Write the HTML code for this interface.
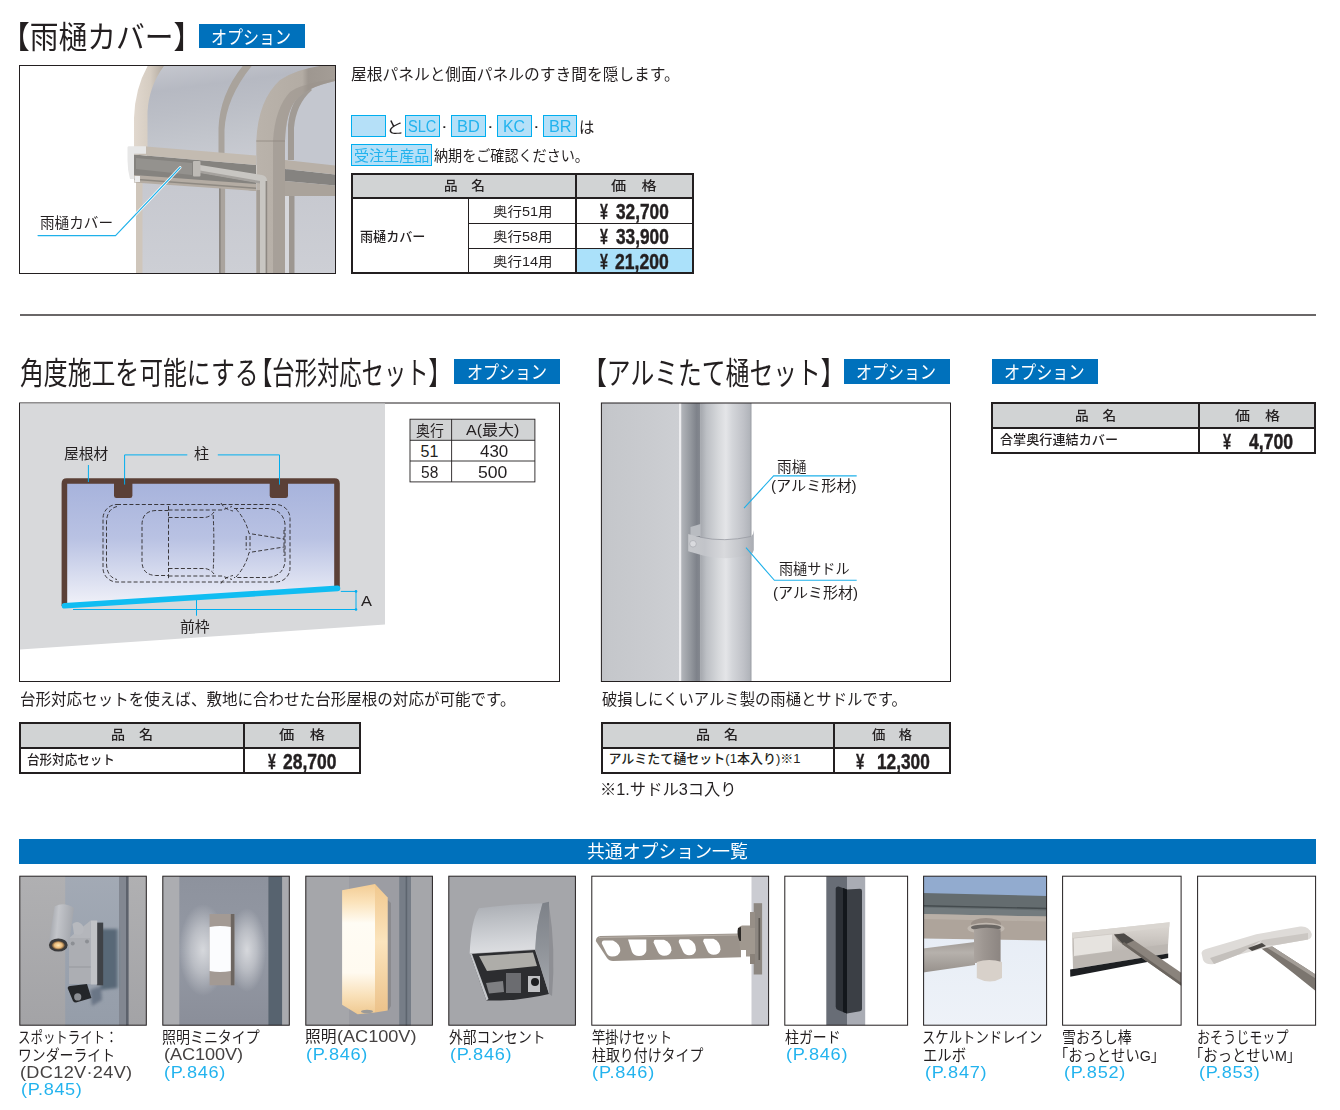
<!DOCTYPE html>
<html lang="ja"><head><meta charset="utf-8"><title>オプション</title>
<style>
html,body{margin:0;padding:0;background:#fff}
body{width:1340px;height:1110px;position:relative;overflow:hidden;font-family:"Liberation Sans", "Noto Sans CJK JP", sans-serif;color:#231f20;font-weight:400}
.t{position:absolute;white-space:pre;line-height:1;transform-origin:0 0}
.b{position:absolute;box-sizing:border-box}
svg{position:absolute;display:block;overflow:hidden}
svg text{font-family:"Liberation Sans", "Noto Sans CJK JP", sans-serif}
</style></head>
<body>
<div class="b" style="left:199px;top:24px;width:106px;height:24px;background:#0071bc"></div>
<div class="b" style="left:454.2px;top:359px;width:105.6px;height:25px;background:#0071bc"></div>
<div class="b" style="left:843.9px;top:359px;width:106.1px;height:25px;background:#0071bc"></div>
<div class="b" style="left:992px;top:359px;width:106px;height:25px;background:#0071bc"></div>
<div class="b" style="left:19.5px;top:314px;width:1296.3px;height:2px;background:#6a6768"></div>
<div class="b" style="left:351px;top:114.8px;width:35px;height:22.0px;background:#b5e0f8;border:1.5px solid #00aeef"></div>
<div class="b" style="left:405.3px;top:114.8px;width:34.8px;height:22.0px;background:#b5e0f8;border:1.5px solid #00aeef"></div>
<div class="b" style="left:451px;top:114.8px;width:35px;height:22.0px;background:#b5e0f8;border:1.5px solid #00aeef"></div>
<div class="b" style="left:497px;top:114.8px;width:34.8px;height:22.0px;background:#b5e0f8;border:1.5px solid #00aeef"></div>
<div class="b" style="left:542.7px;top:114.8px;width:34.5px;height:22.0px;background:#b5e0f8;border:1.5px solid #00aeef"></div>
<div class="b" style="left:351px;top:144px;width:81px;height:21.8px;background:#b5e0f8;border:1.5px solid #00aeef"></div>
<div class="b" style="left:351px;top:173px;width:342.6px;height:25.4px;background:#d1d3d4"></div>
<div class="b" style="left:576.2px;top:248.8px;width:117.1px;height:25.2px;background:#abe1fa"></div>
<div class="b" style="left:351px;top:173px;width:342.6px;height:101px;border:2px solid #231f20"></div>
<div class="b" style="left:351px;top:197.4px;width:342.6px;height:2.0px;background:#231f20"></div>
<div class="b" style="left:575.1px;top:173px;width:2.0px;height:101px;background:#231f20"></div>
<div class="b" style="left:467.8px;top:198.4px;width:1.0px;height:75.6px;background:#231f20"></div>
<div class="b" style="left:468.3px;top:222.9px;width:225.3px;height:1.0px;background:#231f20"></div>
<div class="b" style="left:468.3px;top:248.3px;width:225.3px;height:1.0px;background:#231f20"></div>
<div class="b" style="left:19.2px;top:722px;width:342.0px;height:25.7px;background:#d1d3d4"></div>
<div class="b" style="left:19.2px;top:722px;width:342.0px;height:51.5px;border:2px solid #231f20"></div>
<div class="b" style="left:19.2px;top:746.7px;width:342.0px;height:2.0px;background:#231f20"></div>
<div class="b" style="left:242.8px;top:722px;width:2.0px;height:51.5px;background:#231f20"></div>
<div class="b" style="left:600.7px;top:722px;width:350.5px;height:25.7px;background:#d1d3d4"></div>
<div class="b" style="left:600.7px;top:722px;width:350.5px;height:51.5px;border:2px solid #231f20"></div>
<div class="b" style="left:600.7px;top:746.7px;width:350.5px;height:2.0px;background:#231f20"></div>
<div class="b" style="left:832.9px;top:722px;width:2.0px;height:51.5px;background:#231f20"></div>
<div class="b" style="left:991px;top:402.3px;width:325.4px;height:25.4px;background:#d1d3d4"></div>
<div class="b" style="left:991px;top:402.3px;width:325.4px;height:51.5px;border:2px solid #231f20"></div>
<div class="b" style="left:991px;top:426.7px;width:325.4px;height:2.0px;background:#231f20"></div>
<div class="b" style="left:1198px;top:402.3px;width:2px;height:51.5px;background:#231f20"></div>
<div class="b" style="left:19px;top:839px;width:1297.2px;height:25px;background:#0071bc"></div>
<svg style="left:0;top:60px" width="345" height="220" viewBox="0 60 345 220">
<defs>
<clipPath id="c1"><rect x="20" y="66" width="315" height="207.5"/></clipPath>
<linearGradient id="g1a" x1="0" y1="0" x2="0.25" y2="1"><stop offset="0" stop-color="#c8cad1"/><stop offset="0.28" stop-color="#b6b9c2"/><stop offset="0.5" stop-color="#bbbec6"/><stop offset="0.75" stop-color="#c2c5cc"/><stop offset="1" stop-color="#c9cbd2"/></linearGradient>
<linearGradient id="g1b" x1="0" y1="0" x2="0" y2="1"><stop offset="0" stop-color="#c6c8cf"/><stop offset="1" stop-color="#cdcfd5"/></linearGradient>
<linearGradient id="g1p" x1="0" y1="0" x2="1" y2="0"><stop offset="0" stop-color="#bab3ab"/><stop offset="0.55" stop-color="#b3aca4"/><stop offset="0.62" stop-color="#9e9790"/><stop offset="1" stop-color="#a59e97"/></linearGradient>
<linearGradient id="g1f" x1="0" y1="0" x2="1" y2="0"><stop offset="0" stop-color="#e1d8ce"/><stop offset="0.5" stop-color="#d5ccc1"/><stop offset="1" stop-color="#a9a198"/></linearGradient>
</defs>
<rect x="19.5" y="65.5" width="316" height="208" fill="#fff"/>
<g clip-path="url(#c1)">
<!-- upper glass -->
<path d="M147,150 V110 Q148,82 166,62 H340 V165 H147 Z" fill="url(#g1a)"/>
<path d="M287,160 V110 Q290,90 306,78 L340,70 V170 H287 Z" fill="#c4c7cf"/>
<!-- lower glass -->
<rect x="140" y="178" width="200" height="96" fill="url(#g1b)"/>
<!-- left arch frame -->
<path d="M134,150 V118 Q135,86 150,62 H167 Q149,84 147.5,112 V150 Z" fill="url(#g1f)"/>
<!-- second thin arch -->
<path d="M218.5,153 V128 Q220,92 246,62 H255 Q226,96 224.5,130 V154 Z" fill="#a9a39c"/>
<!-- thin arch behind elbow -->
<path d="M288,160 V125 Q290,100 308,86 L312,90 Q296,104 294,128 V160 Z" fill="#a19b95"/>
<!-- right beam -->
<path d="M285,160 L340,166 V175 L285,169 Z" fill="#b8b0a7"/>
<path d="M285,169 L340,175 V186 L285,181 Z" fill="#858380"/>
<path d="M285,181 L340,186 V196 L285,196 Z" fill="#aaa39b"/>
<rect x="289" y="196" width="5.5" height="80" fill="#9d9791"/>
<rect x="285" y="196" width="4" height="80" fill="#d6d7db"/>
<!-- left lower column -->
<rect x="136" y="180" width="6.5" height="95" fill="#cfc6bb"/>
<!-- mullion -->
<rect x="219.3" y="186" width="5.8" height="90" fill="#aaa49e"/>
<rect x="219.3" y="186" width="1.2" height="90" fill="#7c7873"/>
<!-- beam -->
<path d="M134,154.5 L256,165 V191 L134,176 Z" fill="#85837f"/>
<path d="M136,158 L192,163 V175 L136,169 Z" fill="#94928e"/>
<path d="M146,146.5 L256,155.5 V165 L134,154.6 V150 Z" fill="#c3bbb1"/>
<path d="M134,175 L256,184 V191 L134,182.5 Z" fill="#b4aca3"/>
<path d="M134,178.5 L256,187.5 V189 L134,180 Z" fill="#8e8982"/>
<!-- main post + elbow -->
<path d="M256.3,275 V141 Q258,100 280,80 Q300,66 340,64 V80 Q308,86 296,100 Q286,112 285,141 V275 Z" fill="url(#g1p)"/>
<path d="M273,275 V141 Q275,108 290,92 Q300,84 340,78 V80 Q308,86 296,100 Q286,112 285,141 V275 Z" fill="#9a938c" opacity="0.55"/>
<path d="M256.3,141 H285" stroke="#8f8982" stroke-width="0.8"/>
<!-- small pipe -->
<path d="M200,165 L262,175 Q267,176 267,181 V275 H260 V183 L200,172.5 Z" fill="#c8c6c2"/>
<path d="M200,170.5 L260,181 V183.5 L200,173 Z" fill="#a5a29e"/>
<rect x="265.6" y="181" width="1.6" height="95" fill="#8d8882"/>
<rect x="193" y="161" width="7.5" height="15.5" rx="1" fill="#bdbab5"/>
<rect x="256.5" y="190" width="3.5" height="85" fill="#a39d96"/>
<!-- end cap -->
<path d="M127.5,147.5 Q127.5,146.3 129,146.3 H146 V153.8 H134 V179 H130 Q127.5,170 127.5,160 Z" fill="#e7e7e7"/>
<rect x="134.5" y="176" width="5.5" height="6" fill="#ececec"/>
</g>
<path d="M38,235.6 H115.5 L180.2,167.5" fill="none" stroke="#fff" stroke-width="2.6" stroke-linecap="round"/>
<path d="M38,235.6 H115.5 L180.2,167.5" fill="none" stroke="#1fb1ea" stroke-width="1.1" stroke-linecap="round"/>
<rect x="19.5" y="65.5" width="316" height="208" fill="none" stroke="#231f20" stroke-width="1"/>
</svg>
<svg style="left:0;top:390px" width="580" height="300" viewBox="0 390 580 300">
<defs>
<linearGradient id="gRoof" x1="0" y1="0" x2="0" y2="1"><stop offset="0" stop-color="#a7b3dc"/><stop offset="0.45" stop-color="#b9c2e3"/><stop offset="1" stop-color="#f1f2f9"/></linearGradient>
</defs>
<rect x="19.5" y="403" width="540" height="278.5" fill="#fff" stroke="#231f20" stroke-width="1"/>
<polygon points="20,403.5 385,403.5 385,624.6 20,649.5" fill="#d8d9db"/>
<polygon points="66,483 335,483 335,588.5 66,606" fill="url(#gRoof)"/>
<path d="M64.4,606 V483.4 Q64.4,481 66.8,481 H334.6 Q337,481 337,483.4 V589" fill="none" stroke="#5b4037" stroke-width="5.6"/>
<path d="M114,482 H132.4 V495.5 Q132.4,498 130,498 H116.4 Q114,498 114,495.5 Z" fill="#5b4037"/>
<path d="M269.7,482 H288 V495.5 Q288,498 285.6,498 H272.1 Q269.7,498 269.7,495.5 Z" fill="#5b4037"/>
<g fill="none" stroke="#2b2829" stroke-width="0.9" stroke-dasharray="4 2.2">
<rect x="103" y="504.5" width="187" height="77.5" rx="14" ry="14"/>
<path d="M117,506.5 Q107,509 106.5,522 V564 Q107,577 117,579.5"/>
<path d="M168.5,510.5 H156 Q142,511 142,525 V561 Q142,575 156,575.5 H168.5"/>
<path d="M168.5,506 V580"/>
<path d="M168.5,517.5 H205 Q211,516.5 214,512 M168.5,568.5 H205 Q211,569.5 214,574 M213.2,515 Q214.5,543 213.2,571"/>
<path d="M168.5,510 H222 L232,506.5 M168.5,576 H222 L232,579.5"/>
<path d="M234,508.5 H268 Q283,510 285,524 V562 Q283,576 268,577.5 H234"/>
<path d="M236,509 Q246,520 249,533.5 L284,539 M236,577 Q246,566 249,552.5 L284,547"/>
<path d="M246.2,536 V550 M250,536 V550 M284,530 V556"/>
<path d="M221,503 Q224,509 233,511 M221,583.5 Q224,577.5 233,575.5"/>
</g>
<g fill="none" stroke="#00aeef" stroke-width="1">
<path d="M88.4,465 V482"/>
<path d="M187.3,454.9 H124.6 V484.6"/>
<path d="M217.8,454.9 H279.5 V484.6"/>
<path d="M196.5,597 V615.7"/>
<path d="M73,609.5 H356 M340.8,591.4 H356 M356,591.4 V609.5"/>
</g>
<circle cx="356" cy="591.4" r="1.3" fill="#00aeef"/><circle cx="356" cy="609.5" r="1.3" fill="#00aeef"/>
<path d="M64.5,605.8 L337.5,588.4" stroke="#10bdf2" stroke-width="5.6" stroke-linecap="round" fill="none"/>
<rect x="410" y="419.2" width="124.9" height="21.1" fill="#d1d3d4"/>
<g fill="none" stroke="#231f20" stroke-width="0.9">
<rect x="410" y="419.2" width="124.9" height="62.7"/>
<path d="M410,440.3 H534.9 M410,461 H534.9 M451.6,419.2 V481.9"/>
</g>
</svg>
<svg style="left:590px;top:395px" width="370" height="295" viewBox="590 395 370 295">
<defs>
<clipPath id="c3"><rect x="601.4" y="403" width="349.1" height="278.5"/></clipPath>
<linearGradient id="g3w" x1="0" y1="0" x2="1" y2="0"><stop offset="0" stop-color="#c0c2c6"/><stop offset="0.12" stop-color="#c5c7cb"/><stop offset="0.6" stop-color="#c9cbcf"/><stop offset="1" stop-color="#cdcfd3"/></linearGradient>
<linearGradient id="g3s" x1="0" y1="0" x2="1" y2="0"><stop offset="0" stop-color="#b3b6bb"/><stop offset="0.45" stop-color="#969aa0"/><stop offset="0.8" stop-color="#7e828a"/><stop offset="1" stop-color="#858990"/></linearGradient>
<linearGradient id="g3p" x1="0" y1="0" x2="1" y2="0"><stop offset="0" stop-color="#a4a7ad"/><stop offset="0.12" stop-color="#bcbfc4"/><stop offset="0.35" stop-color="#d6d8db"/><stop offset="0.5" stop-color="#e4e5e8"/><stop offset="0.62" stop-color="#d4d6da"/><stop offset="0.85" stop-color="#bfc1c7"/><stop offset="0.96" stop-color="#b2b5bb"/><stop offset="1" stop-color="#9a9da4"/></linearGradient>
<linearGradient id="g3b" x1="0" y1="0" x2="1" y2="0"><stop offset="0" stop-color="#c6c8cc"/><stop offset="0.25" stop-color="#c2c4c9"/><stop offset="0.55" stop-color="#d9dadd"/><stop offset="0.8" stop-color="#c3c5ca"/><stop offset="1" stop-color="#a9acb3"/></linearGradient>
</defs>
<rect x="601.4" y="403" width="349.1" height="278.5" fill="#fff"/>
<g clip-path="url(#c3)">
<rect x="600" y="402" width="80" height="280" fill="url(#g3w)"/>
<rect x="679" y="402" width="2.4" height="280" fill="#eeeef0"/>
<rect x="681.2" y="402" width="19.4" height="280" fill="url(#g3s)"/>
<rect x="700.3" y="402" width="51.2" height="280" fill="url(#g3p)"/>
<path d="M690.5,527 L700.5,524 V536 H690.5 Z" fill="#b9bcc1"/>
<path d="M688.2,534 L700,537.2 Q724,542.5 751,536.5 Q753.8,534 753.8,530 V550 Q753.5,553 750,555 Q724,561 703,555.5 L688.2,551.2 Z" fill="url(#g3b)"/>
<path d="M700,537.2 Q724,542.5 751,536.5" fill="none" stroke="#989ba2" stroke-width="0.8"/>
<circle cx="693" cy="543.8" r="3.3" fill="#d9dade" stroke="#a2a5ab" stroke-width="0.6"/>
</g>
<g fill="none" stroke="#1fb1ea" stroke-width="1.1">
<path d="M856.7,475.9 H773.6 L744,508.2"/>
<path d="M856.7,580.3 H774.4 L746,547.7"/>
</g>
<rect x="601.4" y="403" width="349.1" height="278.5" fill="none" stroke="#231f20" stroke-width="1"/>
</svg>
<svg style="left:0;top:870px" width="1340" height="160" viewBox="0 870 1340 160">
<defs>
<filter id="bl2" x="-30%" y="-30%" width="160%" height="160%"><feGaussianBlur stdDeviation="1.6"/></filter>
<filter id="bl1" x="-30%" y="-30%" width="160%" height="160%"><feGaussianBlur stdDeviation="0.8"/></filter>
<clipPath id="k1"><rect x="19.8" y="876.2" width="126.5" height="149"/></clipPath>
<clipPath id="k2"><rect x="162.8" y="876.2" width="126.5" height="149"/></clipPath>
<clipPath id="k3"><rect x="305.8" y="876.2" width="126.6" height="149"/></clipPath>
<clipPath id="k4"><rect x="448.8" y="876.2" width="126.6" height="149"/></clipPath>
<clipPath id="k5"><rect x="591.8" y="876.2" width="176.8" height="149"/></clipPath>
<clipPath id="k6"><rect x="784.8" y="876.2" width="122.8" height="149"/></clipPath>
<clipPath id="k7"><rect x="923.6" y="876.2" width="123" height="149"/></clipPath>
<clipPath id="k8"><rect x="1062.6" y="876.2" width="118.5" height="149"/></clipPath>
<clipPath id="k9"><rect x="1197.6" y="876.2" width="118" height="149"/></clipPath>
<linearGradient id="t1w" x1="0" y1="0" x2="0" y2="1"><stop offset="0" stop-color="#b0b0b2"/><stop offset="1" stop-color="#a3a3a6"/></linearGradient>
<linearGradient id="t1p" x1="0" y1="0" x2="0" y2="1"><stop offset="0" stop-color="#a3aab5"/><stop offset="0.5" stop-color="#9ba3af"/><stop offset="1" stop-color="#959da9"/></linearGradient>
<linearGradient id="t1c" x1="0" y1="0" x2="1" y2="0.15"><stop offset="0" stop-color="#9a9da3"/><stop offset="0.4" stop-color="#c3c5ca"/><stop offset="1" stop-color="#a3a6ac"/></linearGradient>
<radialGradient id="t1l" cx="0.5" cy="0.5" r="0.5"><stop offset="0" stop-color="#ffe9b8"/><stop offset="0.6" stop-color="#e9b878"/><stop offset="1" stop-color="#5a4630"/></radialGradient>
<radialGradient id="t2g" cx="0.5" cy="0.5" r="0.5"><stop offset="0" stop-color="#fff" stop-opacity="0.62"/><stop offset="0.5" stop-color="#fff" stop-opacity="0.36"/><stop offset="1" stop-color="#fff" stop-opacity="0"/></radialGradient>
<linearGradient id="t2p" x1="0" y1="0" x2="0" y2="1"><stop offset="0" stop-color="#8d929d"/><stop offset="0.5" stop-color="#9499a4"/><stop offset="1" stop-color="#8a8e99"/></linearGradient>
<linearGradient id="t3l" x1="0" y1="0" x2="0" y2="1"><stop offset="0" stop-color="#f3cc94"/><stop offset="0.14" stop-color="#fbe3bb"/><stop offset="0.3" stop-color="#fffcf4"/><stop offset="0.68" stop-color="#fffaf0"/><stop offset="0.86" stop-color="#f9e0b8"/><stop offset="1" stop-color="#efc991"/></linearGradient>
<linearGradient id="t3s" x1="0" y1="0" x2="0" y2="1"><stop offset="0" stop-color="#f1c88e"/><stop offset="0.45" stop-color="#fbe4bd"/><stop offset="1" stop-color="#ecc28a"/></linearGradient>
<linearGradient id="t4c" x1="0" y1="0" x2="0.1" y2="1"><stop offset="0" stop-color="#a9acb2"/><stop offset="0.35" stop-color="#bcbfc4"/><stop offset="0.8" stop-color="#d3d5d9"/><stop offset="1" stop-color="#dcdde0"/></linearGradient>
<linearGradient id="t4s" x1="0" y1="0" x2="0" y2="1"><stop offset="0" stop-color="#7d8188"/><stop offset="0.5" stop-color="#8f9399"/><stop offset="1" stop-color="#a5a8ad"/></linearGradient>
<linearGradient id="t7p" x1="0" y1="0" x2="0" y2="1"><stop offset="0" stop-color="#a29c97"/><stop offset="0.35" stop-color="#b6b1ac"/><stop offset="1" stop-color="#97918c"/></linearGradient>
<linearGradient id="t7v" x1="0" y1="0" x2="1" y2="0"><stop offset="0" stop-color="#aaa39e"/><stop offset="0.4" stop-color="#9c9590"/><stop offset="1" stop-color="#8c8581"/></linearGradient>
<linearGradient id="t7s" x1="0" y1="0" x2="0" y2="1"><stop offset="0" stop-color="#e3eaf4"/><stop offset="1" stop-color="#eef2f8"/></linearGradient>
<linearGradient id="t8b" x1="0" y1="0" x2="0" y2="1"><stop offset="0" stop-color="#dedad5"/><stop offset="0.3" stop-color="#cfcac5"/><stop offset="0.6" stop-color="#bdb8b3"/><stop offset="1" stop-color="#cbc7c2"/></linearGradient>
</defs>
<!-- 1 spotlight -->
<g clip-path="url(#k1)">
<rect x="19" y="875" width="129" height="152" fill="url(#t1w)"/>
<rect x="65.2" y="875" width="54" height="152" fill="url(#t1p)"/>
<rect x="119" y="875" width="7.5" height="152" fill="#828791"/>
<rect x="126" y="875" width="2.6" height="152" fill="#5d626c"/>
<g filter="url(#bl2)"><path d="M101,929 H117.5 V988 L101,990 Z" fill="#596877"/><path d="M90,990 L101,986 L102,1000 L92,1006 Z" fill="#6b7686"/></g>
<rect x="96.8" y="922.6" width="6.4" height="62.7" fill="#3f4247"/>
<path d="M69,938 H90.7 V984 H69 Z" fill="#acaeb3"/>
<path d="M90.7,920.5 H97.2 V984.5 H90.7 Z" fill="#c0c2c6"/>
<path d="M69,938 L90.7,920.5 V938 Z" fill="#b4b6bb"/>
<path d="M69,967 H90.7" stroke="#8d9096" stroke-width="0.7" fill="none"/>
<path d="M72.5,924 Q78,919 83,926 Q85.5,932 80,935 L74,934 Z" fill="#b7b9be"/>
<path d="M54.6,906.5 Q64,901.5 74,908 L68.6,947 Q58,953 48.9,942 Z" fill="url(#t1c)"/>
<ellipse cx="58.3" cy="945" rx="9.4" ry="6.6" fill="#3a3a3c"/>
<ellipse cx="58.3" cy="945.3" rx="6.6" ry="4.4" fill="url(#t1l)"/>
<circle cx="72.7" cy="943.5" r="2" fill="#8c8f94"/><circle cx="87" cy="941.4" r="2" fill="#8c8f94"/>
<path d="M67.6,988 Q68,986 70,986 L87,984 L91.4,998 L76,1002.6 Q74,1002.6 73,1001 Z" fill="#242629"/>
<circle cx="77.7" cy="996.9" r="3.6" fill="#8b8e93"/>
</g>
<!-- 2 mini light -->
<g clip-path="url(#k2)">
<rect x="162" y="875" width="129" height="152" fill="#acadb1"/>
<rect x="179.3" y="875" width="89" height="152" fill="url(#t2p)"/>
<ellipse cx="203" cy="950" rx="24" ry="46" fill="url(#t2g)"/>
<ellipse cx="247" cy="950" rx="19" ry="42" fill="url(#t2g)"/>
<rect x="268.3" y="875" width="14" height="152" fill="#57636f"/>
<rect x="282.3" y="875" width="8" height="152" fill="#a9aaae"/>
<rect x="209.6" y="914" width="24.8" height="71.3" fill="#a39a94"/>
<rect x="230.8" y="914" width="3.6" height="71.3" fill="#6d6661"/>
<path d="M209.6,927 Q220,925 230.8,927 V971 Q220,973 209.6,971 Z" fill="#fbfcfe"/>
</g>
<!-- 3 light -->
<g clip-path="url(#k3)">
<rect x="305" y="875" width="129" height="152" fill="#a5a6aa"/>
<rect x="349" y="875" width="50.5" height="152" fill="#9c9da3"/>
<rect x="399.2" y="875" width="11.8" height="152" fill="#767d87"/>
<rect x="405.6" y="875" width="1.6" height="152" fill="#5d646e"/>
<path d="M387.7,900 L391,903 V1006 L387.7,1011 Z" fill="#8a8a8e"/>
<path d="M375,884.1 L387.7,897.4 V1010.6 L375,1012.5 Z" fill="url(#t3s)"/>
<path d="M342.1,890.2 L375,884.1 V1012.5 L357.7,1014.2 L342.1,1004.8 Z" fill="url(#t3l)"/>
<ellipse cx="367" cy="1011.5" rx="6" ry="1.8" fill="#9b9a98"/>
</g>
<!-- 4 outlet -->
<g clip-path="url(#k4)">
<rect x="448" y="875" width="129" height="152" fill="#a5a6aa"/>
<path d="M549,905 Q556,950 552,996 L549,994 Z" fill="#8e8f94"/>
<path d="M470,954 L535,950 L549,994 Q520,1001 486.3,1000.5 Z" fill="#2c2d30"/>
<path d="M479,956 L533,952.5 L537,966 L487,971 Z" fill="#aeada9"/>
<path d="M486,983 L503,981 L504,992 L489,993.5 Z" fill="#7e7f82"/>
<rect x="506" y="973" width="15" height="20" fill="#6b6c70"/>
<rect x="528" y="976" width="12" height="16" fill="#bfc0c3"/>
<circle cx="535" cy="982" r="4" fill="#1d1e20"/>
<path d="M469.7,953.6 Q471,920 479,908.2 Q510,904 542.5,903.2 Q536,925 535.3,949.3 Z" fill="url(#t4c)"/>
<path d="M542.5,903.2 L549,901.7 V994 L535.3,949.3 Q536,925 542.5,903.2 Z" fill="url(#t4s)"/>
<path d="M469.7,953.6 L486.3,1000.5 L488.5,999 L472,954 Z" fill="#c4c6ca"/>
</g>
<!-- 5 hanger -->
<g clip-path="url(#k5)">
<rect x="591" y="875" width="179" height="152" fill="#fff"/>
<rect x="751.5" y="875" width="18" height="152" fill="#cbccd2"/>
<rect x="753.7" y="903.2" width="8.4" height="71.3" fill="#8d8781"/>
<rect x="758.5" y="918" width="1.6" height="42" fill="#5b5651"/>
<path d="M595.8,941 Q596,936.5 600.5,936 L741,933.4 V957.2 L613,961.1 Q609,961 607,958 Z" fill="#9a928a"/>
<path d="M599,937.5 L741,934.8" stroke="#b7afa7" stroke-width="1.2" fill="none"/>
<g fill="#fff">
<path d="M604,940.5 H613 Q620.5,944 620.3,951 Q619,956.5 612,956.5 Q608,956.5 606,952 L601.8,943.5 Q601.8,940.5 604,940.5 Z"/>
<path d="M628,939.5 H646.3 V951 Q645,956 639,956 Q634,956 632,952 Z"/>
<path d="M655,939.8 H664 Q671.5,943 671.5,950.5 Q670,955.8 664,955.8 Q660,955.8 658,952 L653.6,942.5 Q653.6,939.8 655,939.8 Z"/>
<path d="M680,939.3 H689 Q696,942.5 696,950 Q695,955.3 689,955.3 Q685,955.3 683,951.5 L678.7,942 Q678.7,939.3 680,939.3 Z"/>
<path d="M704.5,938.8 H713.5 Q720.5,942 720.5,949.5 Q719.5,954.8 713.5,954.8 Q709.5,954.8 707.5,951 L703.2,941.5 Q703.2,938.8 704.5,938.8 Z"/>
</g>
<path d="M738.5,928 Q740,925 743,925.5 H755 V956.5 H746 V950 H740 Z" fill="#a0988f"/>
<path d="M738,928 Q736.5,934 739.5,941 L741,941 V927 Z" fill="#2d2a27"/>
<rect x="750" y="912" width="5" height="16" fill="#978f87"/>
<rect x="750" y="954" width="5" height="10" fill="#8a827a"/>
</g>
<!-- 6 pillar guard -->
<g clip-path="url(#k6)">
<rect x="784" y="875" width="125" height="152" fill="#fff"/>
<rect x="826.3" y="875" width="20.8" height="152" fill="#686d76"/>
<rect x="847" y="875" width="18.2" height="152" fill="#a9acb4"/>
<path d="M835.7,888.5 Q836,886.5 838.5,886.6 L847,889.5 V1013.5 L838,1010 Q835.7,1009 835.7,1006.5 Z" fill="#2b2f35"/>
<path d="M843,888 L847,889.5 V1013.5 L843,1012 Z" fill="#13171c"/>
<path d="M847,889.5 L860,888.7 Q862,888.7 862,891 V1009 Q862,1011 860,1011.3 L847,1013.5 Z" fill="#3b3f45"/>
</g>
<!-- 7 drain elbow -->
<g clip-path="url(#k7)">
<rect x="923" y="875" width="125" height="152" fill="url(#t7s)"/>
<rect x="923" y="875" width="125" height="22" fill="#92abcf"/>
<path d="M923,893 L1048,896 V917 L923,914.5 Z" fill="#646c6f"/>
<path d="M923,905 L1048,907.8 V909.2 L923,906.4 Z" fill="#444b4e"/>
<path d="M923,907.6 L1048,910.4 V917 L923,914.5 Z" fill="#737b7e"/>
<path d="M923,914 L1048,916.6 V940.6 L923,938.5 Z" fill="#aea49b"/>
<path d="M923,914 L1048,916.6 V921.5 L923,919 Z" fill="#b9b0a7"/>
<ellipse cx="986" cy="924" rx="15" ry="6" fill="#9a9088"/>
<path d="M923,948.6 L975,942 V965 L923,972.4 Z" fill="url(#t7p)"/>
<ellipse cx="986" cy="928.4" rx="18.5" ry="5.6" fill="#c0b8b0"/>
<ellipse cx="986" cy="927.6" rx="15" ry="3.2" fill="#6b6764"/>
<path d="M974,929.5 Q986,926 1000.6,929.5 V963 H974 Z" fill="url(#t7v)"/>
<path d="M976.8,962 Q989,958 1002,962 V978 Q990,985 976.8,978 Z" fill="#d8d1ca"/>
</g>
<!-- 8 snow pusher -->
<g clip-path="url(#k8)">
<rect x="1062" y="875" width="120" height="152" fill="#fff"/>
<path d="M1072,932.7 L1169.6,922.2 L1167.5,953.6 L1073,968.8 Z" fill="url(#t8b)"/>
<path d="M1072,932.7 L1169.6,922.2 L1169.2,927 L1072.3,938 Z" fill="#dad6d1"/>
<path d="M1074,938.5 L1112,934.5 V951 L1074,956 Z" fill="#e6e3df"/>
<path d="M1073,957 L1167.8,944 L1167.5,953.6 L1073,968.8 Z" fill="#bcb7b2"/>
<path d="M1070.1,969.5 L1168.2,953.6 V958 L1070.3,976.7 Z" fill="#1d1f22"/>
<path d="M1114,934.5 L1124,933.5 L1183,974 V987 L1118,941 Z" fill="#8a837c"/>
<path d="M1114,934.5 L1124,933.5 L1134,940.5 L1124,945 Z" fill="#4d4a47"/>
<path d="M1122,944 L1183,987 V984 L1124,942 Z" fill="#6b655f"/>
</g>
<!-- 9 mop -->
<g clip-path="url(#k9)">
<rect x="1197" y="875" width="120" height="152" fill="#fff"/>
<path d="M1258,944 L1266,942.5 Q1296,962 1318,976 V993 Q1290,970 1262,949 Z" fill="#7b756f"/>
<path d="M1262,944.5 L1266,942.5 Q1296,962 1318,976 V980 Q1292,963 1262,944.5 Z" fill="#a39d97"/>
<path d="M1201.5,953 Q1202,950 1206,949 L1256.3,934.2 L1300,926.5 Q1309,925.5 1311.8,934 Q1312,938 1308,939.5 L1276.5,945 L1237.6,955 L1214,964 Q1206,965.5 1203,960 Z" fill="#dedbd8"/>
<path d="M1210,958 L1240,948 L1262,940 L1240,954 L1214,964 Z" fill="#c4c0bc"/>
<path d="M1262,940 L1308,933 L1308,939.5 L1276.5,945 L1258,946 Z" fill="#cbc7c3"/>
<path d="M1248,948 L1262,943 L1266,946 L1252,951 Z" fill="#4a4744"/>
</g>
<g fill="none" stroke="#231f20" stroke-width="1">
<rect x="19.8" y="876.2" width="126.5" height="149"/>
<rect x="162.8" y="876.2" width="126.5" height="149"/>
<rect x="305.8" y="876.2" width="126.6" height="149"/>
<rect x="448.8" y="876.2" width="126.6" height="149"/>
<rect x="591.8" y="876.2" width="176.8" height="149"/>
<rect x="784.8" y="876.2" width="122.8" height="149"/>
<rect x="923.6" y="876.2" width="123" height="149"/>
<rect x="1062.6" y="876.2" width="118.5" height="149"/>
<rect x="1197.6" y="876.2" width="118" height="149"/>
</g>
</svg>
<div class="t" style="left:0.5px;top:22.0px;font-size:31px;transform:scaleX(0.927)">【雨樋カバー】</div>
<div class="t" style="left:211.3px;top:28.7px;font-size:18.5px;color:#fff;transform:scaleX(0.865)">オプション</div>
<div class="t" style="left:351.1px;top:67.2px;font-size:16px;transform:scaleX(0.983)">屋根パネルと側面パネルのすき間を隠します。</div>
<div class="t" style="left:386.3px;top:119.6px;font-size:16px;transform:scaleX(1.145)">と</div>
<div class="t" style="left:408.4px;top:119.4px;font-size:16px;color:#22b3ee;transform:scaleX(0.913)">SLC</div>
<div class="t" style="left:441.0px;top:118.5px;font-size:16px;transform:scaleX(1.250)">·</div>
<div class="t" style="left:457.2px;top:119.4px;font-size:16px;color:#22b3ee;transform:scaleX(1.024)">BD</div>
<div class="t" style="left:487.0px;top:118.5px;font-size:16px;transform:scaleX(1.250)">·</div>
<div class="t" style="left:502.9px;top:119.4px;font-size:16px;color:#22b3ee;transform:scaleX(0.995)">KC</div>
<div class="t" style="left:532.5px;top:118.5px;font-size:16px;transform:scaleX(1.250)">·</div>
<div class="t" style="left:548.6px;top:119.4px;font-size:16px;color:#22b3ee;transform:scaleX(1.019)">BR</div>
<div class="t" style="left:578.6px;top:119.6px;font-size:16px;transform:scaleX(0.962)">は</div>
<div class="t" style="left:353.8px;top:147.9px;font-size:15px;color:#22b3ee;transform:scaleX(1.004)">受注生産品</div>
<div class="t" style="left:433.5px;top:148.1px;font-size:15px;transform:scaleX(0.939)">納期をご確認ください。</div>
<div class="t" style="left:443.7px;top:179.1px;font-size:13px;font-weight:500;transform:scaleX(1.051)">品　名</div>
<div class="t" style="left:611.4px;top:179.1px;font-size:13px;font-weight:500;transform:scaleX(1.169)">価　格</div>
<div class="t" style="left:360.2px;top:229.6px;font-size:13px;font-weight:500;transform:scaleX(1.006)">雨樋カバー</div>
<div class="t" style="left:493.1px;top:204.6px;font-size:13px;transform:scaleX(1.112)">奥行51用</div>
<div class="t" style="left:493.1px;top:229.6px;font-size:13px;transform:scaleX(1.112)">奥行58用</div>
<div class="t" style="left:493.1px;top:254.6px;font-size:13px;transform:scaleX(1.112)">奥行14用</div>
<div class="t" style="left:599.6px;top:201.8px;font-size:21.5px;font-weight:700;transform:scaleX(0.658);-webkit-text-stroke:0.3px #231f20">¥</div>
<div class="t" style="left:615.9px;top:201.8px;font-size:21.5px;font-weight:700;transform:scaleX(0.803);-webkit-text-stroke:0.45px #231f20">32,700</div>
<div class="t" style="left:599.6px;top:226.8px;font-size:21.5px;font-weight:700;transform:scaleX(0.658);-webkit-text-stroke:0.3px #231f20">¥</div>
<div class="t" style="left:615.9px;top:226.8px;font-size:21.5px;font-weight:700;transform:scaleX(0.803);-webkit-text-stroke:0.45px #231f20">33,900</div>
<div class="t" style="left:599.6px;top:252.0px;font-size:21.5px;font-weight:700;transform:scaleX(0.658);-webkit-text-stroke:0.3px #231f20">¥</div>
<div class="t" style="left:615.1px;top:252.0px;font-size:21.5px;font-weight:700;transform:scaleX(0.816);-webkit-text-stroke:0.45px #231f20">21,200</div>
<div class="t" style="left:39.5px;top:215.8px;font-size:14.5px;transform:scaleX(1.007)">雨樋カバー</div>
<div class="t" style="left:19.6px;top:357.7px;font-size:31px;transform:scaleX(0.769)">角度施工を可能にする</div>
<div class="t" style="left:249.5px;top:357.7px;font-size:31px;transform:scaleX(0.720)">【台形対応セット】</div>
<div class="t" style="left:466.5px;top:363.5px;font-size:18.5px;color:#fff;transform:scaleX(0.865)">オプション</div>
<div class="t" style="left:63.8px;top:447.3px;font-size:14.5px;transform:scaleX(1.019)">屋根材</div>
<div class="t" style="left:193.5px;top:447.3px;font-size:14.5px;transform:scaleX(1.036)">柱</div>
<div class="t" style="left:180.0px;top:620.1px;font-size:14.5px;transform:scaleX(1.025)">前枠</div>
<div class="t" style="left:361.4px;top:592.5px;font-size:15.5px;transform:scaleX(1.060)">A</div>
<div class="t" style="left:416.0px;top:423.5px;font-size:14.5px;transform:scaleX(0.964)">奥行</div>
<div class="t" style="left:466.0px;top:423.0px;font-size:14.5px;transform:scaleX(1.104)">A(最大)</div>
<div class="t" style="left:420.5px;top:443.5px;font-size:16px">51</div>
<div class="t" style="left:479.5px;top:443.5px;font-size:16px;transform:scaleX(1.058)">430</div>
<div class="t" style="left:420.5px;top:464.5px;font-size:16px;transform:scaleX(0.971)">58</div>
<div class="t" style="left:478.4px;top:464.5px;font-size:16px;transform:scaleX(1.100)">500</div>
<div class="t" style="left:19.5px;top:692.4px;font-size:16px;transform:scaleX(0.971)">台形対応セットを使えば、敷地に合わせた台形屋根の対応が可能です。</div>
<div class="t" style="left:110.9px;top:728.3px;font-size:13px;font-weight:500;transform:scaleX(1.081)">品　名</div>
<div class="t" style="left:279.0px;top:728.3px;font-size:13px;font-weight:500;transform:scaleX(1.179)">価　格</div>
<div class="t" style="left:27.0px;top:752.8px;font-size:13px;font-weight:500;transform:scaleX(0.966)">台形対応セット</div>
<div class="t" style="left:267.5px;top:751.5px;font-size:21.5px;font-weight:700;transform:scaleX(0.650);-webkit-text-stroke:0.3px #231f20">¥</div>
<div class="t" style="left:283.1px;top:751.5px;font-size:21.5px;font-weight:700;transform:scaleX(0.812);-webkit-text-stroke:0.45px #231f20">28,700</div>
<div class="t" style="left:583.1px;top:357.7px;font-size:31px;transform:scaleX(0.768)">【アルミたて樋セット】</div>
<div class="t" style="left:856.3px;top:363.5px;font-size:18.5px;color:#fff;transform:scaleX(0.865)">オプション</div>
<div class="t" style="left:777.3px;top:459.9px;font-size:14.5px;transform:scaleX(1.014)">雨樋</div>
<div class="t" style="left:771.0px;top:479.4px;font-size:14.5px;transform:scaleX(1.044)">(アルミ形材)</div>
<div class="t" style="left:779.0px;top:562.4px;font-size:14.5px;transform:scaleX(0.972)">雨樋サドル</div>
<div class="t" style="left:773.0px;top:586.4px;font-size:14.5px;transform:scaleX(1.038)">(アルミ形材)</div>
<div class="t" style="left:601.5px;top:692.4px;font-size:16px;transform:scaleX(0.959)">破損しにくいアルミ製の雨樋とサドルです。</div>
<div class="t" style="left:695.9px;top:728.3px;font-size:13px;font-weight:500;transform:scaleX(1.081)">品　名</div>
<div class="t" style="left:872.0px;top:728.3px;font-size:13px;font-weight:500;transform:scaleX(1.026)">価　格</div>
<div class="t" style="left:608.5px;top:752.3px;font-size:13px;font-weight:500">アルミたて樋セット(1本入り)※1</div>
<div class="t" style="left:855.7px;top:751.5px;font-size:21.5px;font-weight:700;transform:scaleX(0.692);-webkit-text-stroke:0.3px #231f20">¥</div>
<div class="t" style="left:877.2px;top:751.5px;font-size:21.5px;font-weight:700;transform:scaleX(0.803);-webkit-text-stroke:0.45px #231f20">12,300</div>
<div class="t" style="left:600.0px;top:781.7px;font-size:16px;transform:scaleX(1.018)">※1.サドル3コ入り</div>
<div class="t" style="left:1003.8px;top:363.5px;font-size:18.5px;color:#fff;transform:scaleX(0.871)">オプション</div>
<div class="t" style="left:1074.9px;top:408.8px;font-size:13px;font-weight:500;transform:scaleX(1.054)">品　名</div>
<div class="t" style="left:1235.0px;top:408.8px;font-size:13px;font-weight:500;transform:scaleX(1.154)">価　格</div>
<div class="t" style="left:1000.0px;top:432.8px;font-size:13px;font-weight:500;transform:scaleX(1.009)">合掌奥行連結カバー</div>
<div class="t" style="left:1223.1px;top:432.2px;font-size:21.5px;font-weight:700;transform:scaleX(0.675);-webkit-text-stroke:0.3px #231f20">¥</div>
<div class="t" style="left:1248.7px;top:432.2px;font-size:21.5px;font-weight:700;transform:scaleX(0.821);-webkit-text-stroke:0.45px #231f20">4,700</div>
<div class="t" style="left:586.6px;top:843.1px;font-size:18px;color:#fff;transform:scaleX(0.993)">共通オプション一覧</div>
<div class="t" style="left:18.2px;top:1030.3px;font-size:15.5px;transform:scaleX(0.803)">スポットライト：</div>
<div class="t" style="left:18.0px;top:1047.6px;font-size:15.5px;transform:scaleX(0.895)">ワンダーライト</div>
<div class="t" style="left:19.5px;top:1063.6px;font-size:16.5px;color:#454242;letter-spacing:0.29px;transform:scaleX(1.100)">(DC12V·24V)</div>
<div class="t" style="left:20.7px;top:1081.2px;font-size:16.5px;color:#22b3ee;letter-spacing:0.56px;transform:scaleX(1.100)">(P.845)</div>
<div class="t" style="left:162.0px;top:1029.8px;font-size:15.5px;transform:scaleX(0.901)">照明ミニタイプ</div>
<div class="t" style="left:163.6px;top:1046.0px;font-size:16.5px;color:#454242;letter-spacing:-0.08px;transform:scaleX(1.100)">(AC100V)</div>
<div class="t" style="left:164.1px;top:1063.6px;font-size:16.5px;color:#22b3ee;letter-spacing:0.64px;transform:scaleX(1.100)">(P.846)</div>
<div class="t" style="left:304.7px;top:1029.3px;font-size:15.5px;transform:scaleX(1.017)">照明</div>
<div class="t" style="left:306.4px;top:1046.0px;font-size:16.5px;color:#22b3ee;letter-spacing:0.64px;transform:scaleX(1.100)">(P.846)</div>
<div class="t" style="left:337.1px;top:1028.2px;font-size:16.5px;color:#454242;letter-spacing:-0.03px;transform:scaleX(1.100)">(AC100V)</div>
<div class="t" style="left:449.1px;top:1029.8px;font-size:15.5px;transform:scaleX(0.889)">外部コンセント</div>
<div class="t" style="left:449.5px;top:1046.0px;font-size:16.5px;color:#22b3ee;letter-spacing:0.68px;transform:scaleX(1.100)">(P.846)</div>
<div class="t" style="left:592.2px;top:1029.8px;font-size:15.5px;transform:scaleX(0.862)">竿掛けセット</div>
<div class="t" style="left:592.2px;top:1047.6px;font-size:15.5px;transform:scaleX(0.898)">柱取り付けタイプ</div>
<div class="t" style="left:592.3px;top:1063.6px;font-size:16.5px;color:#22b3ee;letter-spacing:0.76px;transform:scaleX(1.100)">(P.846)</div>
<div class="t" style="left:785.0px;top:1029.8px;font-size:15.5px;transform:scaleX(0.898)">柱ガード</div>
<div class="t" style="left:785.9px;top:1046.0px;font-size:16.5px;color:#22b3ee;letter-spacing:0.65px;transform:scaleX(1.100)">(P.846)</div>
<div class="t" style="left:922.3px;top:1029.8px;font-size:15.5px;transform:scaleX(0.862)">スケルトンドレイン</div>
<div class="t" style="left:923.1px;top:1047.6px;font-size:15.5px;transform:scaleX(0.927)">エルボ</div>
<div class="t" style="left:924.7px;top:1063.6px;font-size:16.5px;color:#22b3ee;letter-spacing:0.67px;transform:scaleX(1.100)">(P.847)</div>
<div class="t" style="left:1062.3px;top:1029.8px;font-size:15.5px;transform:scaleX(0.899)">雪おろし棒</div>
<div class="t" style="left:1054.0px;top:1047.6px;font-size:15.5px;transform:scaleX(0.921)">「おっとせいG」</div>
<div class="t" style="left:1064.0px;top:1063.6px;font-size:16.5px;color:#22b3ee;letter-spacing:0.61px;transform:scaleX(1.100)">(P.852)</div>
<div class="t" style="left:1197.4px;top:1030.3px;font-size:15.5px;transform:scaleX(0.843)">おそうじモップ</div>
<div class="t" style="left:1189.0px;top:1047.6px;font-size:15.5px;transform:scaleX(0.924)">「おっとせいM」</div>
<div class="t" style="left:1198.6px;top:1063.6px;font-size:16.5px;color:#22b3ee;letter-spacing:0.56px;transform:scaleX(1.100)">(P.853)</div>
</body></html>
